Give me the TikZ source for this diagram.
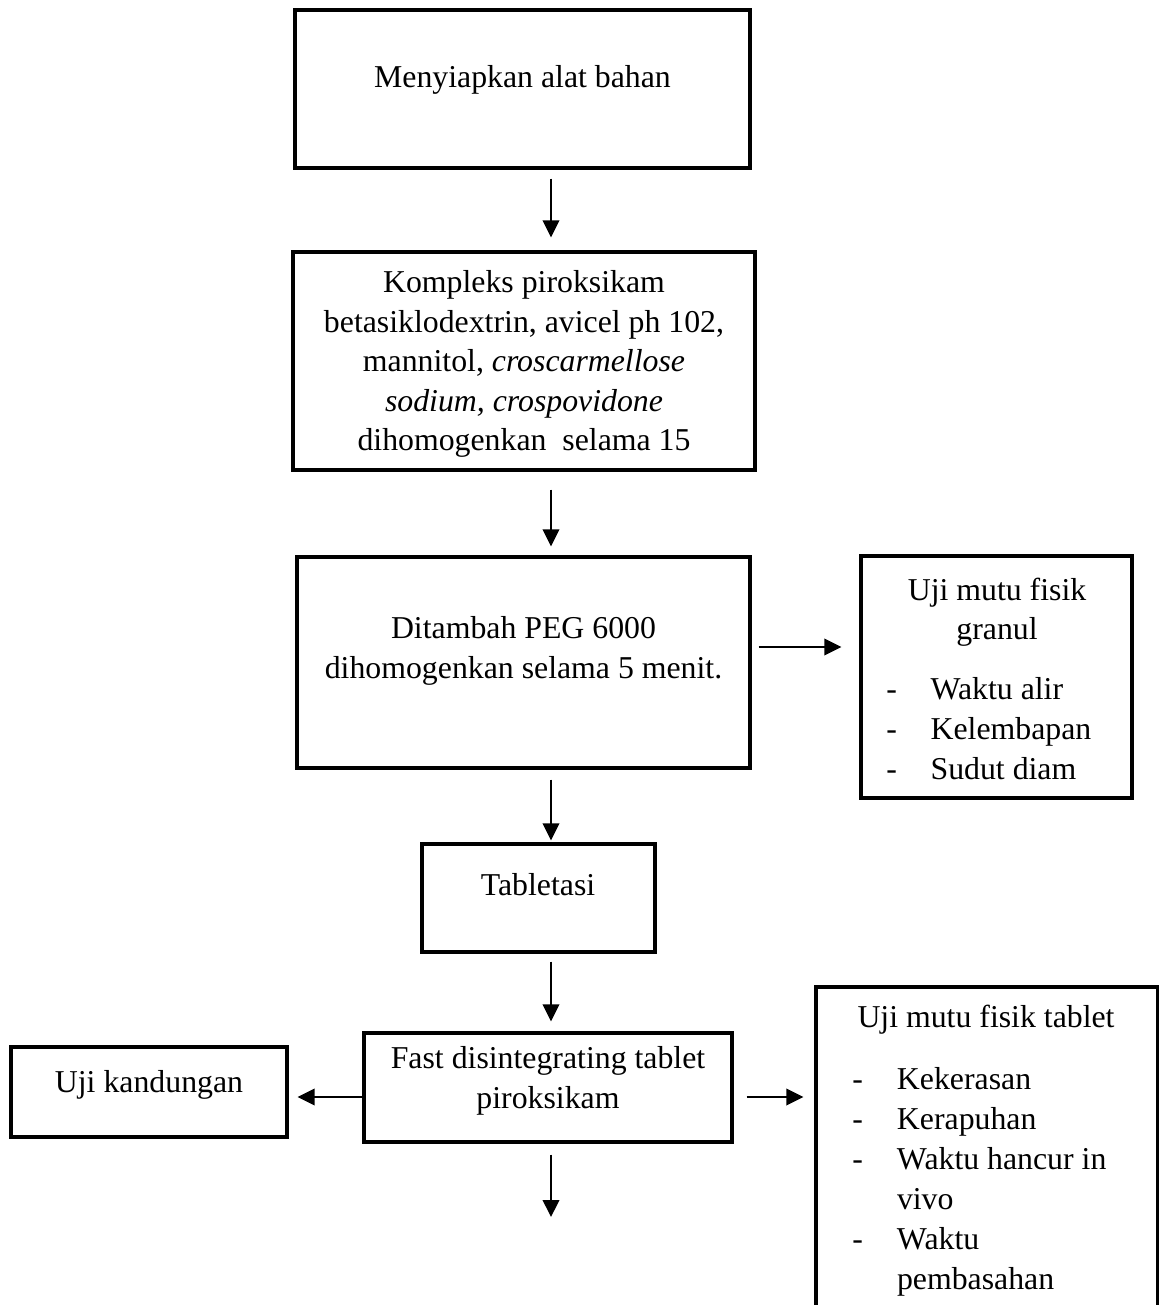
\documentclass[tikz,border=0pt]{standalone}
\usepackage{fontspec}
\setmainfont{Liberation Serif}
\usetikzlibrary{arrows.meta}
\begin{document}
\begin{tikzpicture}[x=0.5pt, y=-0.5pt,
  box/.style={draw, line width=1.6pt, inner sep=0pt, rectangle},
  arr/.style={line width=1.2pt, -{Triangle[length=8.5pt,width=8.2pt]}},
  txt/.style={inner sep=0pt, align=center, font=\fontsize{15.9pt}{19.75pt}\selectfont},
  lst/.style={inner sep=0pt, anchor=west, font=\fontsize{15.9pt}{20pt}\selectfont}]
\useasboundingbox (0,0) rectangle (1159,1305);
\clip (0,0) rectangle (1159,1305);
% boxes
\node[box, minimum width=227.5pt, minimum height=79pt] (b1) at (522.5,89) {};
\node[box, minimum width=231pt, minimum height=109pt] (b2) at (524,361) {};
\node[box, minimum width=226.5pt, minimum height=105.5pt] (b3) at (523.5,662.5) {};
\node[box, minimum width=135.5pt, minimum height=121pt] (b4) at (996.5,677) {};
\node[box, minimum width=116.5pt, minimum height=54pt] (b5) at (538.5,898) {};
\node[box, minimum width=184pt, minimum height=54.5pt] (b6) at (548,1087.5) {};
\node[box, minimum width=138pt, minimum height=45pt] (b7) at (149,1092) {};
\node[box, minimum width=171pt, minimum height=176.5pt] (b8) at (987,1163.5) {};
% texts
\node[txt] (t1) at (522.5,80) {Menyiapkan alat bahan};
\node[txt] (t2) at (524,364) {Kompleks piroksikam\\betasiklodextrin, avicel ph 102,\\mannitol, \textit{croscarmellose}\\\textit{sodium, crospovidone}\\dihomogenkan\ \ selama 15};
\node[txt] (t3) at (523.5,651) {Ditambah PEG 6000\\dihomogenkan selama 5 menit.};
\node[txt] (t4) at (997,612) {Uji mutu fisik\\granul};
\node[lst] (l4) at (886,731) {\begin{tabular}{@{}l@{\hspace{16.8pt}}l@{}}-&Waktu alir\\-&Kelembapan\\-&Sudut diam\end{tabular}};
\node[txt] (t5) at (538,885) {Tabletasi};
\node[txt] (t6) at (548,1081) {Fast disintegrating tablet\\piroksikam};
\node[txt] (t7) at (149,1085) {Uji kandungan};
\node[txt] (t8) at (986,1020) {Uji mutu fisik tablet};
\node[lst] (l8) at (852,1181) {\begin{tabular}{@{}l@{\hspace{17pt}}l@{}}-&Kekerasan\\-&Kerapuhan\\-&Waktu hancur in\\&vivo\\-&Waktu\\&pembasahan\end{tabular}};
% connectors
\coordinate (ax) at (551,0);
\coordinate (y3) at (0,647);
\coordinate (y6) at (0,1097);
\coordinate (end) at (551,1217);
\draw[arr, shorten <=4.5pt, shorten >=6.5pt] (b1.south -| ax) -- (b2.north -| ax);
\draw[arr, shorten <=9pt, shorten >=4.5pt] (b2.south -| ax) -- (b3.north -| ax);
\draw[arr, shorten <=3.5pt, shorten >=9pt] (b3.east |- y3) -- (b4.west |- y3);
\draw[arr, shorten <=5pt, shorten >=1pt] (b3.south -| ax) -- (b5.north -| ax);
\draw[arr, shorten <=4pt, shorten >=5pt] (b5.south -| ax) -- (b6.north -| ax);
\draw[arr, shorten >=4.5pt] (b6.west |- y6) -- (b7.east |- y6);
\draw[arr, shorten <=6.5pt, shorten >=5.5pt] (b6.east |- y6) -- (b8.west |- y6);
\draw[arr, shorten <=5.5pt] (b6.south -| ax) -- (end);
\end{tikzpicture}
\end{document}
